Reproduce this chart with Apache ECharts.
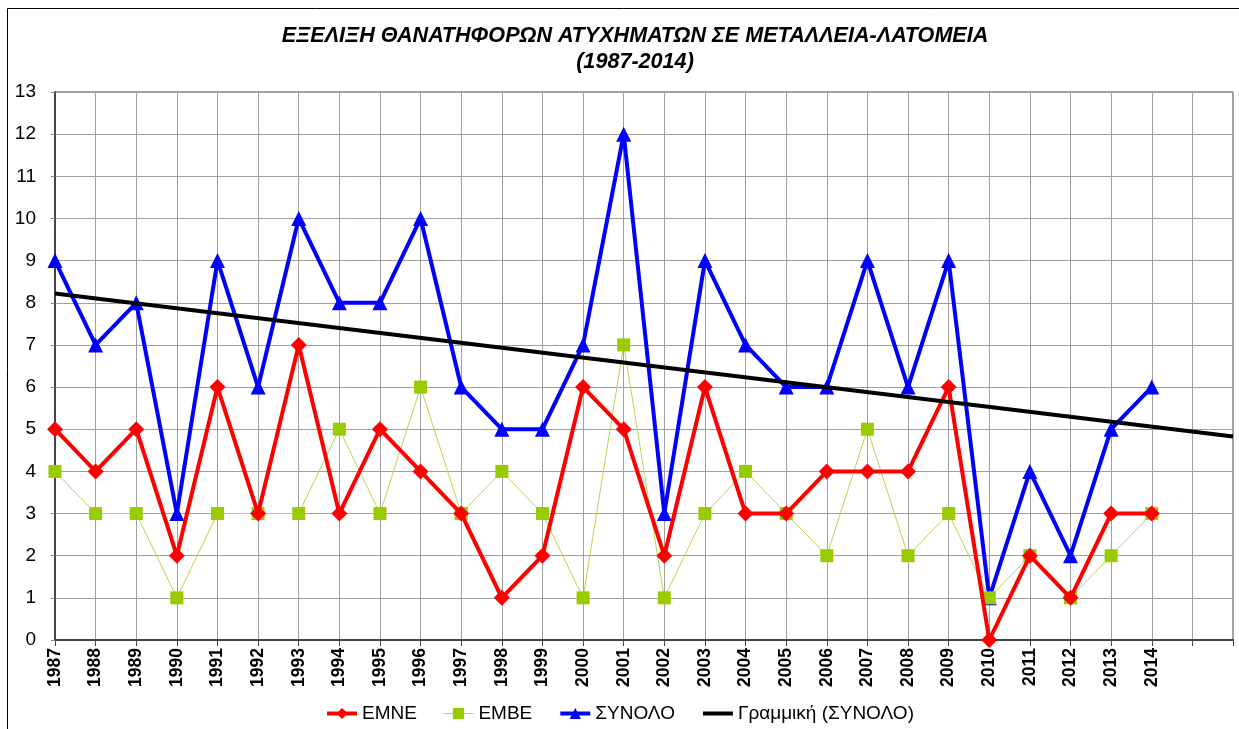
<!DOCTYPE html>
<html>
<head>
<meta charset="utf-8">
<script src="https://cdn.jsdelivr.net/npm/echarts@6/dist/echarts.min.js"></script>
<style>
  html, body { margin: 0; padding: 0; background: #fff; }
  #chart { width: 1239px; height: 729px; }
</style>
</head>
<body>
<div id="chart"></div>
<script>
// years shown on the axis, plus two empty slots to the right
var years = ['1987','1988','1989','1990','1991','1992','1993','1994','1995','1996','1997','1998','1999','2000',
  '2001','2002','2003','2004','2005','2006','2007','2008','2009','2010','2011','2012','2013','2014'];
var extraSlots = ['2015', '2016'];

var emne = [5,4,5,2,6,3,7,3,5,4,3,1,2,6,5,2,6,3,3,4,4,4,6,0,2,1,3,3];
var embe = [4,3,3,1,3,3,3,5,3,6,3,4,3,1,7,1,3,4,3,2,5,2,3,1,2,1,2,3];
var synolo = [9,7,8,3,9,6,10,8,8,10,6,5,5,7,12,3,9,7,6,6,9,6,9,1,4,2,5,6];

// trend line end points (1987 and right edge)
var trendStart = 8.22;
var trendEnd = 4.83;

var categories = years.concat(extraSlots);
var trend = categories.map(function (c, i) {
  if (i === 0) return trendStart;
  if (i === categories.length - 1) return trendEnd;
  return null;
});

var font = 'Liberation Sans, Arial, sans-serif';
var myChart = echarts.init(document.getElementById('chart'));

myChart.setOption({
  backgroundColor: '#fff',
  animation: false,
  graphic: [{
    type: 'rect',
    shape: { x: 7.5, y: 8.5, width: 1300, height: 800 },
    style: { fill: 'none', stroke: '#000', lineWidth: 1 },
    silent: true
  }],
  title: {
    text: 'ΕΞΕΛΙΞΗ ΘΑΝΑΤΗΦΟΡΩΝ ΑΤΥΧΗΜΑΤΩΝ ΣΕ ΜΕΤΑΛΛΕΙΑ-ΛΑΤΟΜΕΙΑ\n(1987-2014)',
    left: 630,
    top: 18,
    textAlign: 'center',
    textStyle: {
      fontFamily: font,
      fontSize: 21.6,
      fontWeight: 'bold',
      fontStyle: 'italic',
      color: '#000',
      lineHeight: 26
    }
  },
  legend: {
    bottom: 1,
    left: 'center',
    itemWidth: 30,
    itemHeight: 14,
    itemGap: 26,
    textStyle: { fontFamily: font, fontSize: 19, color: '#000' },
    data: [
      { name: 'ΕΜΝΕ', lineStyle: { width: 4 } },
      { name: 'ΕΜΒΕ', lineStyle: { width: 1 } },
      { name: 'ΣΥΝΟΛΟ', lineStyle: { width: 4 } },
      { name: 'Γραμμική (ΣΥΝΟΛΟ)', lineStyle: { width: 4 }, itemStyle: { opacity: 0 } }
    ]
  },
  grid: {
    left: 55,
    right: 6,
    top: 92,
    bottom: 89,
    show: true,
    borderColor: '#444',
    borderWidth: 1
  },
  xAxis: {
    type: 'category',
    boundaryGap: false,
    data: categories,
    axisLine: { lineStyle: { color: '#444', width: 2 } },
    axisTick: { show: true, length: 6, lineStyle: { color: '#444' } },
    splitLine: { show: true, lineStyle: { color: '#a0a0a0', width: 1 } },
    axisLabel: {
      rotate: 90,
      interval: 0,
      margin: 8,
      fontFamily: font,
      fontSize: 17.5,
      fontWeight: 'bold',
      color: '#000',
      formatter: function (v) { return years.indexOf(v) >= 0 ? v : ''; }
    }
  },
  yAxis: {
    type: 'value',
    min: 0,
    max: 13,
    interval: 1,
    axisLine: { show: true, lineStyle: { color: '#444', width: 2 } },
    axisTick: { show: true, length: 4, lineStyle: { color: '#888' } },
    splitLine: { lineStyle: { color: '#a0a0a0', width: 1 } },
    axisLabel: { fontFamily: font, fontSize: 19, color: '#000', margin: 19 }
  },
  series: [
    {
      name: 'ΕΜΝΕ',
      type: 'line',
      data: emne,
      symbol: 'diamond',
      symbolSize: 16,
      z: 4,
      itemStyle: { color: '#ff0000' },
      lineStyle: { color: '#ff0000', width: 4 }
    },
    {
      name: 'ΕΜΒΕ',
      type: 'line',
      data: embe,
      symbol: 'rect',
      symbolSize: 13,
      z: 3,
      itemStyle: { color: '#99cc00' },
      lineStyle: { color: '#b3d94d', width: 1 }
    },
    {
      name: 'ΣΥΝΟΛΟ',
      type: 'line',
      data: synolo,
      symbol: 'triangle',
      symbolSize: 15,
      z: 2,
      itemStyle: { color: '#0000ff' },
      lineStyle: { color: '#0000ff', width: 4 }
    },
    {
      name: 'Γραμμική (ΣΥΝΟΛΟ)',
      type: 'line',
      data: trend,
      connectNulls: true,
      symbol: 'none',
      z: 5,
      itemStyle: { color: '#000' },
      lineStyle: { color: '#000', width: 4 }
    }
  ]
});
</script>
</body>
</html>
